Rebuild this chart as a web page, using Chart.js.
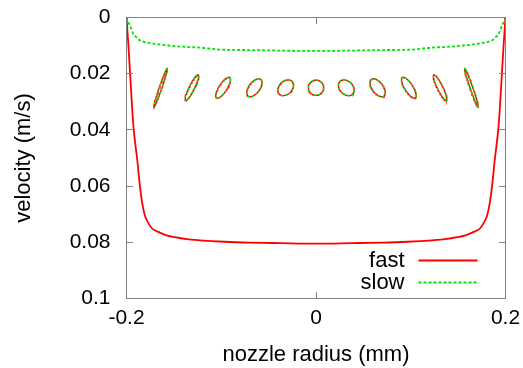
<!DOCTYPE html>
<html>
<head>
<meta charset="utf-8">
<script src="https://cdn.jsdelivr.net/npm/chart.js@4/dist/chart.umd.min.js"></script>
<style>
  html, body { margin: 0; padding: 0; background: #fff; }
  canvas { display: block; }
</style>
</head>
<body>
<canvas id="profile" width="523" height="368"></canvas>
<script>
// velocity profile across the nozzle (radius in mm, velocity in m/s)
const radiusFast = [-0.2, -0.1981, -0.196, -0.1939, -0.1923, -0.1886, -0.1865, -0.1839, -0.1807, -0.1775,
  -0.1733, -0.1659, -0.1578, -0.149, -0.1364, -0.1226, -0.0963, -0.0699, -0.0382, 0,
  0.0382, 0.0699, 0.0963, 0.1226, 0.1364, 0.149, 0.1578, 0.1659, 0.1733, 0.1775,
  0.1807, 0.1839, 0.1865, 0.1886, 0.1923, 0.1939, 0.196, 0.1981, 0.2];
const velocityFast = [0, 0.0093, 0.0211, 0.033, 0.0401, 0.0508, 0.0579, 0.065, 0.0704, 0.0728,
  0.075, 0.0764, 0.0775, 0.0782, 0.0789, 0.0793, 0.0798, 0.0801, 0.0803, 0.0805,
  0.0803, 0.0801, 0.0798, 0.0793, 0.0789, 0.0782, 0.0775, 0.0764, 0.075, 0.0728,
  0.0704, 0.065, 0.0579, 0.0508, 0.0401, 0.033, 0.0211, 0.0093, 0];

const radiusSlow = [-0.2, -0.1986, -0.1965, -0.193, -0.1897, -0.186, -0.1796, -0.1719, -0.1543, -0.1367,
  -0.1226, -0.1015, -0.0664, -0.0329, 0, 0.0329, 0.0664, 0.1015, 0.1226, 0.1367,
  0.1543, 0.1719, 0.1796, 0.186, 0.1897, 0.193, 0.1965, 0.1986, 0.2];
const velocitySlow = [0, 0.0013, 0.0027, 0.0057, 0.007, 0.0081, 0.0088, 0.0093, 0.01, 0.0105,
  0.0107, 0.0114, 0.0116, 0.0118, 0.0119, 0.0118, 0.0116, 0.0114, 0.0107, 0.0105,
  0.01, 0.0093, 0.0088, 0.0081, 0.007, 0.0057, 0.0027, 0.0013, 0];

// droplet outlines: centre, half extents along each axis, phase between the two (deg)
const dropX = [-0.164, -0.131, -0.098, -0.065, -0.032, 0, 0.032, 0.065, 0.098, 0.131, 0.164];
const dropV = [0.025, 0.025, 0.025, 0.025, 0.025, 0.025, 0.025, 0.025, 0.025, 0.025, 0.025];
const dropHalfX = [0.0072, 0.0072, 0.0078, 0.0081, 0.0083, 0.0081, 0.0083, 0.0081, 0.0078, 0.0072, 0.0072];
const dropHalfV = [0.0069, 0.0046, 0.0037, 0.0032, 0.0028, 0.0027, 0.0028, 0.0032, 0.0037, 0.0046, 0.0069];
const dropPhase = [168, 154, 140, 124, 108, 90, 72, 56, 40, 26, 12];

const xTicks = [-0.2, 0, 0.2];
const yTicks = [0, 0.02, 0.04, 0.06, 0.08, 0.1];

const RED = '#ff0000';
const GREEN = '#00e600';
const FONT = '"Liberation Sans", Arial, Helvetica, sans-serif';

// plot frame inside the 523x368 canvas
const AREA = { left: 126.5, top: 17.5, right: 505.5, bottom: 298.5 };

function pairs(xs, ys) {
  return xs.map((x, i) => ({ x: x, y: ys[i] }));
}

function outline(i) {
  const pts = [];
  const ph = dropPhase[i] * Math.PI / 180;
  for (let k = 0; k <= 64; k++) {
    const t = k / 64 * 2 * Math.PI;
    pts.push({ x: dropX[i] + dropHalfX[i] * Math.cos(t), y: dropV[i] + dropHalfV[i] * Math.cos(t - ph) });
  }
  return pts;
}

const lineDefaults = { showLine: true, pointRadius: 0, pointHoverRadius: 0, fill: false, tension: 0 };

// lower index is painted last, so the dashed green outline sits over the red one
const datasets = [
  { ...lineDefaults, label: 'fast', data: pairs(radiusFast, velocityFast), borderColor: RED, borderWidth: 1.8, cubicInterpolationMode: 'monotone' },
  { ...lineDefaults, label: 'slow', data: pairs(radiusSlow, velocitySlow), borderColor: GREEN, borderWidth: 1.8, borderDash: [3, 2], cubicInterpolationMode: 'monotone' }
];
dropX.forEach((_, i) => {
  datasets.push({ ...lineDefaults, label: '', data: outline(i), borderColor: GREEN, borderWidth: 1.4, borderDash: [2, 2] });
  datasets.push({ ...lineDefaults, label: '', data: outline(i), borderColor: RED, borderWidth: 1.4 });
});

// pin the plot area so the frame lands where the axes should be
const areaPlugin = {
  id: 'area',
  afterLayout(chart) {
    const a = chart.chartArea;
    a.left = AREA.left; a.top = AREA.top; a.right = AREA.right; a.bottom = AREA.bottom;
    a.width = a.right - a.left; a.height = a.bottom - a.top;
    const { x, y } = chart.scales;
    x.left = a.left; x.right = a.right; x.width = a.width;
    x.top = a.bottom; x.bottom = chart.height; x.height = chart.height - a.bottom;
    y.left = 0; y.right = a.left; y.width = a.left;
    y.top = a.top; y.bottom = a.bottom; y.height = a.height;
    x.configure(); y.configure();
  }
};

// gnuplot style box with inward ticks on every side, painted as 1px bars
const framePlugin = {
  id: 'frame',
  afterDatasetsDraw(chart) {
    const { ctx, scales } = chart;
    const len = 6;
    const l = Math.floor(AREA.left), r = Math.floor(AREA.right);
    const t = Math.floor(AREA.top), b = Math.floor(AREA.bottom);
    ctx.save();
    ctx.fillStyle = '#808080';
    ctx.fillRect(l, t, r - l + 1, 1);
    ctx.fillRect(l, b, r - l + 1, 1);
    ctx.fillRect(l, t, 1, b - t + 1);
    ctx.fillRect(r, t, 1, b - t + 1);
    xTicks.forEach(v => {
      const px = Math.round(scales.x.getPixelForValue(v) - 0.5);
      ctx.fillRect(px, b - len, 1, len);
      ctx.fillRect(px, t + 1, 1, len);
    });
    yTicks.forEach(v => {
      const py = Math.round(scales.y.getPixelForValue(v) - 0.5);
      ctx.fillRect(l + 1, py, len, 1);
      ctx.fillRect(r - len, py, len, 1);
    });
    ctx.restore();
  }
};

// key in the lower right corner: label first, then a line sample
const keyPlugin = {
  id: 'key',
  afterDraw(chart) {
    const { ctx, chartArea: a } = chart;
    ctx.save();
    ctx.font = '22px ' + FONT;
    ctx.textAlign = 'right';
    ctx.textBaseline = 'middle';
    [0, 1].forEach(row => {
      const ds = chart.data.datasets[row];
      const y = a.bottom - 38 + row * 22;
      ctx.fillStyle = '#000';
      ctx.fillText(ds.label, a.right - 101, y);
      ctx.strokeStyle = ds.borderColor;
      ctx.lineWidth = ds.borderWidth;
      ctx.setLineDash(ds.borderDash || []);
      ctx.beginPath();
      ctx.moveTo(a.right - 87, y);
      ctx.lineTo(a.right - 28, y);
      ctx.stroke();
    });
    ctx.restore();
  }
};

new Chart(document.getElementById('profile'), {
  type: 'scatter',
  data: { datasets },
  plugins: [areaPlugin, framePlugin, keyPlugin],
  options: {
    responsive: false,
    animation: false,
    events: [],
    plugins: { legend: { display: false }, tooltip: { enabled: false } },
    scales: {
      x: {
        type: 'linear',
        min: -0.2,
        max: 0.2,
        afterBuildTicks: s => { s.ticks = xTicks.map(v => ({ value: v })); },
        grid: { display: false, drawTicks: false },
        border: { display: false },
        ticks: { color: '#000', padding: 7, font: { family: FONT, size: 21 }, maxRotation: 0, callback: v => String(+v.toFixed(2)) },
        title: { display: true, text: 'nozzle radius (mm)', color: '#000', padding: { top: 0, bottom: 0 }, font: { family: FONT, size: 22 } }
      },
      y: {
        type: 'linear',
        reverse: true,
        min: 0,
        max: 0.1,
        afterBuildTicks: s => { s.ticks = yTicks.map(v => ({ value: v })); },
        grid: { display: false, drawTicks: false },
        border: { display: false },
        ticks: { color: '#000', padding: 16, font: { family: FONT, size: 21 }, callback: v => String(+v.toFixed(2)) },
        title: { display: true, text: 'velocity (m/s)', color: '#000', padding: { top: 11, bottom: 0 }, font: { family: FONT, size: 22 } }
      }
    }
  }
});
</script>
</body>
</html>
